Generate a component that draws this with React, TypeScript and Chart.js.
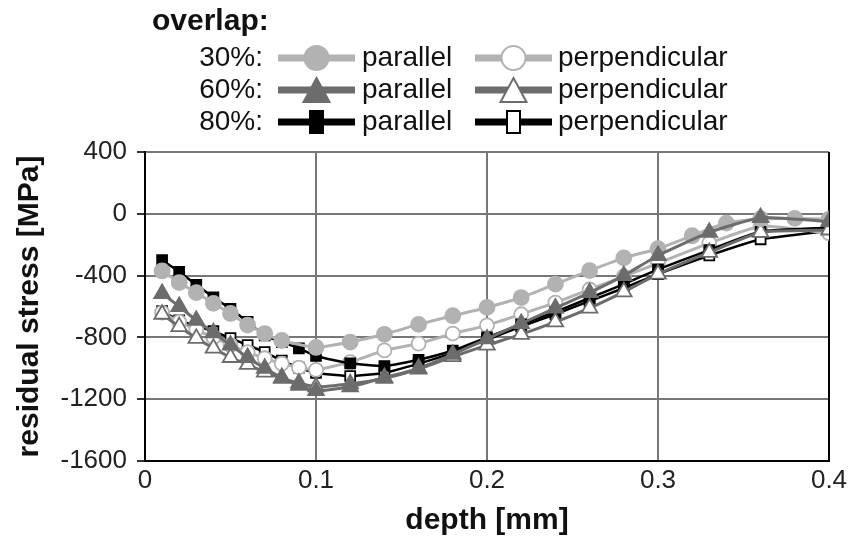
import React, { useEffect, useRef } from "react";
import { Chart, registerables } from "chart.js";

Chart.register(...registerables);

// depth grid of the measurements [mm]
const depthFine = [0.01, 0.02, 0.03, 0.04, 0.05, 0.06, 0.07, 0.08, 0.09, 0.1, 0.12, 0.14, 0.16, 0.18, 0.2, 0.22, 0.24, 0.26, 0.28, 0.3, 0.33, 0.36, 0.4];
const depth30Parallel = [0.01, 0.02, 0.03, 0.04, 0.05, 0.06, 0.07, 0.08, 0.1, 0.12, 0.14, 0.16, 0.18, 0.2, 0.22, 0.24, 0.26, 0.28, 0.3, 0.32, 0.34, 0.36, 0.38, 0.4];

// residual stress [MPa]
const stress30Parallel = [-370, -445, -510, -580, -645, -720, -775, -820, -865, -830, -780, -716, -660, -606, -542, -455, -368, -285, -226, -142, -60, -32, -30, -35];
const stress30Perpendicular = [-640, -700, -750, -800, -850, -895, -935, -970, -995, -1010, -960, -884, -840, -775, -722, -650, -575, -490, -405, -320, -190, -80, -125];
const stress60Parallel = [-516, -600, -690, -770, -850, -930, -1000, -1060, -1110, -1145, -1120, -1060, -1000, -910, -810, -710, -610, -510, -400, -270, -120, -25, -50];
const stress60Perpendicular = [-650, -730, -806, -870, -930, -975, -1025, -1065, -1095, -1120, -1100, -1065, -1005, -925, -850, -780, -700, -610, -505, -390, -250, -120, -105];
const stress80Parallel = [-300, -375, -460, -540, -615, -700, -787, -830, -871, -920, -968, -985, -945, -885, -800, -715, -635, -545, -455, -360, -235, -115, -90];
const stress80Perpendicular = [-630, -690, -725, -760, -805, -850, -895, -950, -995, -1030, -1050, -1030, -970, -900, -815, -730, -650, -565, -480, -390, -270, -165, -110];

const overlapLabels = ["30%:", "60%:", "80%:"];
const directionLabels = ["parallel", "perpendicular"];
const yTicks = [400, 0, -400, -800, -1200, -1600];
const xTicks = [0, 0.1, 0.2, 0.3, 0.4];

const LIGHT = "#b2b2b2";
const DARK = "#6c6c6c";
const BLACK = "#000000";
const FONT = "'Liberation Sans', Arial, sans-serif";

const pts = (xs: number[], ys: number[]) => xs.map((x, i) => ({ x, y: ys[i] }));

type Style = { color: string; width: number; shape: string; filled: boolean; radius: number };

const styles: Style[] = [
  { color: LIGHT, width: 3, shape: "circle", filled: true, radius: 7.5 },
  { color: LIGHT, width: 3, shape: "circle", filled: false, radius: 7 },
  { color: DARK, width: 3, shape: "triangle", filled: true, radius: 9 },
  { color: DARK, width: 3, shape: "triangle", filled: false, radius: 9 },
  { color: BLACK, width: 2.5, shape: "rect", filled: true, radius: 7 },
  { color: BLACK, width: 2.5, shape: "rect", filled: false, radius: 7 },
];

const seriesData = [
  pts(depth30Parallel, stress30Parallel),
  pts(depthFine, stress30Perpendicular),
  pts(depthFine, stress60Parallel),
  pts(depthFine, stress60Perpendicular),
  pts(depthFine, stress80Parallel),
  pts(depthFine, stress80Perpendicular),
];
const drawOrder = [2, 5, 1, 3, 4, 6];

function drawMarker(ctx: CanvasRenderingContext2D, s: Style, x: number, y: number) {
  ctx.save();
  ctx.fillStyle = s.filled ? s.color : "#ffffff";
  ctx.strokeStyle = s.color;
  ctx.lineWidth = 2;
  ctx.beginPath();
  if (s.shape === "circle") {
    ctx.arc(x, y, 12, 0, Math.PI * 2);
  } else if (s.shape === "triangle") {
    ctx.moveTo(x, y - 12);
    ctx.lineTo(x + 13, y + 12);
    ctx.lineTo(x - 13, y + 12);
    ctx.closePath();
  } else {
    ctx.rect(x - 6.5, y - 11, 13, 22);
  }
  ctx.fill();
  ctx.stroke();
  ctx.restore();
}

const legendPlugin = {
  id: "overlapLegend",
  afterDraw(chart: Chart) {
    const ctx = chart.ctx;
    ctx.save();
    ctx.fillStyle = "#111";
    ctx.textBaseline = "middle";
    ctx.font = `bold 30px ${FONT}`;
    ctx.textAlign = "left";
    ctx.fillText("overlap:", 152, 22);
    const rowY = [58, 90, 122];
    const sampleX = [[278, 355], [475, 552]];
    const textX = [362, 558];
    overlapLabels.forEach((lab, r) => {
      ctx.font = `28px ${FONT}`;
      ctx.textAlign = "right";
      ctx.fillStyle = "#111";
      ctx.fillText(lab, 263, rowY[r]);
      directionLabels.forEach((dir, c) => {
        const s = styles[r * 2 + c];
        const [x0, x1] = sampleX[c];
        ctx.strokeStyle = s.color;
        ctx.lineWidth = 7;
        ctx.beginPath();
        ctx.moveTo(x0, rowY[r]);
        ctx.lineTo(x1, rowY[r]);
        ctx.stroke();
        drawMarker(ctx, s, (x0 + x1) / 2, rowY[r]);
        ctx.font = `28px ${FONT}`;
        ctx.textAlign = "left";
        ctx.fillStyle = "#111";
        ctx.fillText(dir, textX[c], rowY[r]);
      });
    });
    ctx.restore();
  },
  beforeDatasetsDraw(chart: Chart) {
    const { ctx, chartArea } = chart;
    ctx.save();
    ctx.strokeStyle = "#000";
    ctx.lineWidth = 2;
    ctx.beginPath();
    ctx.moveTo(chartArea.right, chartArea.top);
    ctx.lineTo(chartArea.right, chartArea.bottom);
    ctx.stroke();
    ctx.restore();
  },
};

export default function App() {
  const ref = useRef<HTMLCanvasElement>(null);
  useEffect(() => {
    const canvas = ref.current;
    if (!canvas) return;
    const chart = new Chart(canvas, {
      type: "line",
      data: {
        datasets: seriesData.map((data, i) => {
          const s = styles[i];
          return {
            label: `${overlapLabels[Math.floor(i / 2)]} ${directionLabels[i % 2]}`,
            data,
            order: drawOrder[i],
            borderColor: s.color,
            borderWidth: s.width,
            backgroundColor: s.filled ? s.color : "#ffffff",
            pointStyle: s.shape,
            pointRadius: s.radius,
            pointBorderWidth: 1.8,
            pointBorderColor: s.color,
            pointBackgroundColor: s.filled ? s.color : "#ffffff",
            tension: 0.15,
            fill: false,
          };
        }),
      },
      options: {
        animation: false,
        responsive: false,
        layout: { padding: { top: 152, right: 24, left: 0, bottom: 0 } },
        plugins: { legend: { display: false }, tooltip: { enabled: false } },
        scales: {
          x: {
            type: "linear",
            min: 0,
            max: 0.4,
            afterBuildTicks: (scale: any) => {
              scale.ticks = xTicks.map((v) => ({ value: v }));
            },
            afterFit: (scale: any) => {
              scale.height = 78;
            },
            ticks: {
              font: { size: 26, family: FONT },
              color: "#222",
              padding: 4,
              callback: (v: any) => (v === 0 ? "0" : Number(v).toFixed(1)),
            },
            grid: { color: "#777", lineWidth: 2, drawTicks: false },
            border: { color: "#000", width: 2 },
            title: {
              display: true,
              text: "depth [mm]",
              font: { size: 30, weight: "bold", family: FONT },
              color: "#111",
              padding: { top: 0, bottom: 0 },
            },
          },
          y: {
            type: "linear",
            min: -1600,
            max: 400,
            afterBuildTicks: (scale: any) => {
              scale.ticks = yTicks.map((v) => ({ value: v }));
            },
            afterFit: (scale: any) => {
              scale.width = 145;
            },
            ticks: {
              font: { size: 26, family: FONT },
              color: "#222",
              padding: 10,
              callback: (v: any) => String(v),
            },
            grid: { color: "#777", lineWidth: 2, tickLength: 8, tickColor: "#333" },
            border: { color: "#000", width: 2 },
            title: {
              display: true,
              text: "residual stress [MPa]",
              font: { size: 30, weight: "bold", family: FONT },
              color: "#111",
              padding: { top: 12, bottom: 0 },
            },
          },
        },
      },
      plugins: [legendPlugin],
    });
    return () => chart.destroy();
  }, []);
  return (
    <div style={{ position: "fixed", left: 0, top: 0, width: 853, height: 539, background: "#fff" }}>
      <canvas ref={ref} width={853} height={539} style={{ display: "block" }} />
    </div>
  );
}
